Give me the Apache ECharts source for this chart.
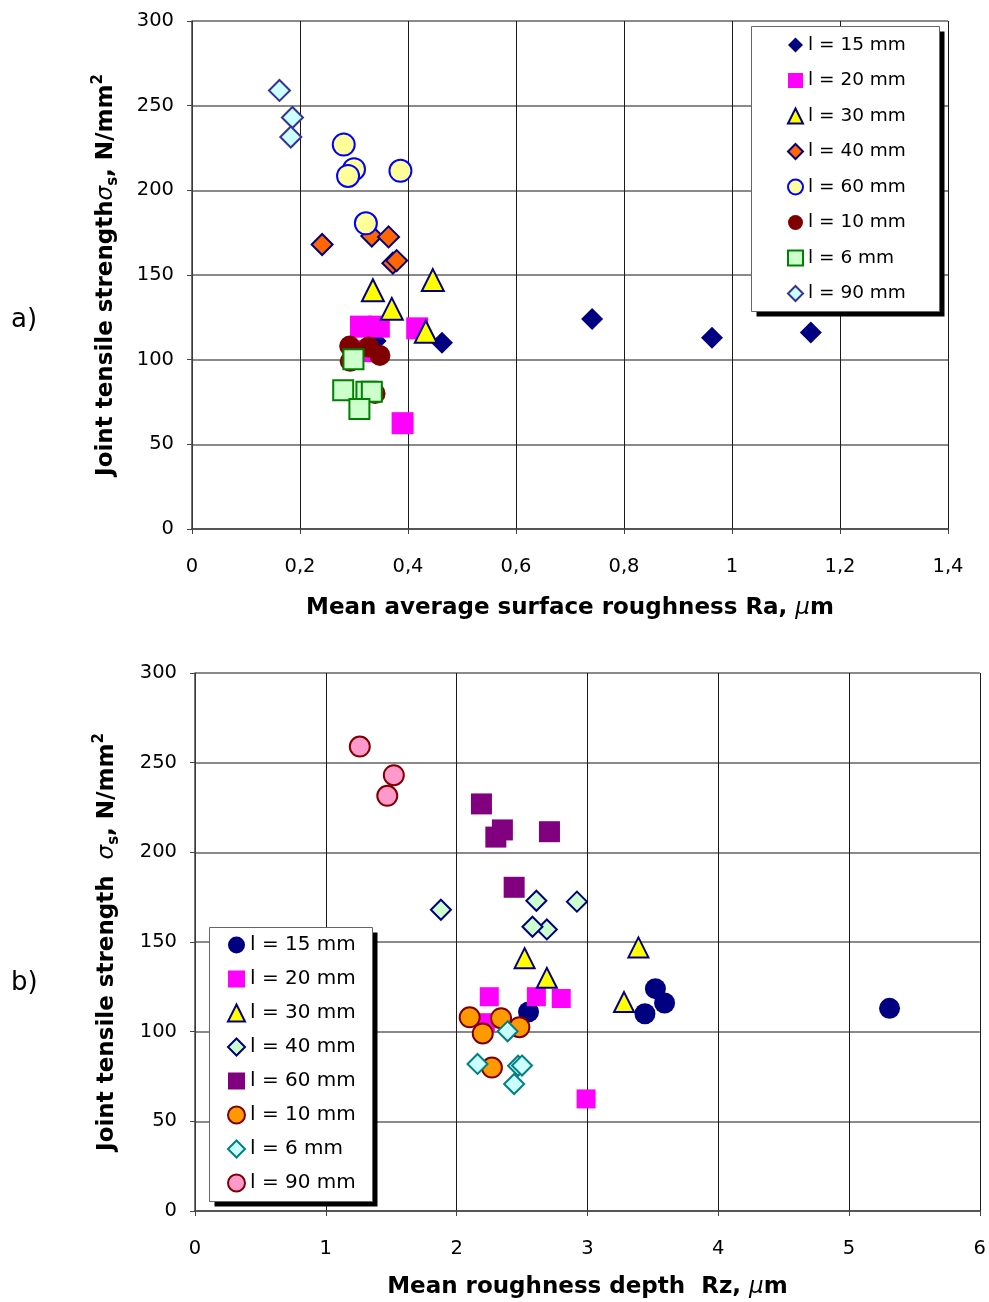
<!DOCTYPE html>
<html><head><meta charset="utf-8">
<script src="https://cdn.jsdelivr.net/npm/echarts@6/dist/echarts.min.js"></script>
<style>html,body{margin:0;padding:0;background:#fff}#c{width:989px;height:1302px}</style>
</head><body><div id="c"></div>
<script>
// ---- data ----
const seriesNames = ['l = 15 mm','l = 20 mm','l = 30 mm','l = 40 mm','l = 60 mm','l = 10 mm','l = 6 mm','l = 90 mm'];
// joint tensile strength (N/mm²), same samples in both panels
const s15 = [110, 124, 113, 116, 111];
const s20 = [119.5, 119.5, 118.5, 62.5, 105];
const s30 = [141, 130, 147, 116.5];
const s40 = [168, 173, 172.5, 157, 158.5];
const s60 = [227, 212.5, 208.5, 211.5, 180.5];
const s10 = [108, 107.5, 99, 102.5, 80];
const s6  = [100.2, 82, 81, 81.1, 70.8];
const s90 = [259, 243, 231.5];
// mean average surface roughness Ra (µm)
const ra15 = [0.463, 0.741, 0.963, 1.146, 0.34];
const ra20 = [0.313, 0.346, 0.417, 0.39, 0.32];
const ra30 = [0.335, 0.370, 0.446, 0.433];
const ra40 = [0.241, 0.333, 0.364, 0.372, 0.379];
const ra60 = [0.281, 0.300, 0.289, 0.386, 0.322];
const ra10 = [0.292, 0.327, 0.293, 0.348, 0.339];
const ra6  = [0.299, 0.28, 0.323, 0.333, 0.31];
const ra90 = [0.162, 0.186, 0.183];
// mean roughness depth Rz (µm)
const rz15 = [3.44, 3.52, 5.31, 3.59, 2.55];
const rz20 = [2.25, 2.61, 2.80, 2.99, 2.22];
const rz30 = [2.52, 2.69, 3.39, 3.28];
const rz40 = [1.88, 2.61, 2.92, 2.69, 2.58];
const rz60 = [2.19, 2.35, 2.30, 2.71, 2.44];
const rz10 = [2.10, 2.34, 2.20, 2.48, 2.27];
const rz6  = [2.39, 2.16, 2.47, 2.50, 2.44];
const rz90 = [1.26, 1.52, 1.47];
const yTicks = [0, 50, 100, 150, 200, 250, 300];
const raTicks = [0, 0.2, 0.4, 0.6, 0.8, 1, 1.2, 1.4];
const rzTicks = [0, 1, 2, 3, 4, 5, 6];

const strengths = [s15, s20, s30, s40, s60, s10, s6, s90];
const raVals = [ra15, ra20, ra30, ra40, ra60, ra10, ra6, ra90];
const rzVals = [rz15, rz20, rz30, rz40, rz60, rz10, rz6, rz90];

// ---- styles ----
const topStyles = [
  {symbol:'diamond', size:22, color:'#000080', border:'#000080', bw:0},
  {symbol:'rect', size:22, color:'#FF00FF', border:'#FF00FF', bw:0},
  {symbol:'triangle', size:22, color:'#FFFF00', border:'#000080', bw:2},
  {symbol:'diamond', size:21, color:'#FF6600', border:'#000080', bw:2},
  {symbol:'circle', size:22, color:'#FFFF99', border:'#0000FF', bw:2},
  {symbol:'circle', size:21, color:'#800000', border:'#800000', bw:0},
  {symbol:'rect', size:20, color:'#CCFFCC', border:'#008000', bw:2},
  {symbol:'diamond', size:21, color:'#CCFFFF', border:'#333399', bw:2}
];
const botStyles = [
  {symbol:'circle', size:21, color:'#000080', border:'#000080', bw:0},
  {symbol:'rect', size:19, color:'#FF00FF', border:'#FF00FF', bw:0},
  {symbol:'triangle', size:20, color:'#FFFF00', border:'#000080', bw:2},
  {symbol:'diamond', size:20, color:'#CCFFCC', border:'#000080', bw:2},
  {symbol:'rect', size:21, color:'#800080', border:'#800080', bw:0},
  {symbol:'circle', size:20, color:'#FF9900', border:'#800000', bw:2},
  {symbol:'diamond', size:20, color:'#CCFFFF', border:'#008080', bw:2},
  {symbol:'circle', size:20, color:'#FF99CC', border:'#800000', bw:2}
];

const FONT = 'DejaVu Sans';
const fmtComma = v => String(+(+v).toFixed(1)).replace('.', ',');

function yTitle(space){
  return 'Joint tensile strength' + space + '{i|σ}{sub|s}, N/mm{sup|2}';
}
const titleRich = {
  i: {fontFamily: FONT, fontStyle: 'italic', fontWeight: 'normal', fontSize: 23, lineHeight: 30, verticalAlign: 'middle'},
  sub: {fontFamily: FONT, fontWeight: 'bold', fontSize: 15, lineHeight: 14, verticalAlign: 'bottom'},
  sup: {fontFamily: FONT, fontWeight: 'bold', fontSize: 15, lineHeight: 14, verticalAlign: 'top'},
  u: {fontFamily: FONT, fontStyle: 'italic', fontWeight: 'normal', fontSize: 23}
};

function yAxis(gridIndex, gap){
  return {
    type: 'value', gridIndex, min: yTicks[0], max: yTicks[yTicks.length-1], interval: 50,
    name: yTitle(gridIndex === 0 ? '' : '  '), nameLocation: 'middle', nameGap: gap,
    nameTextStyle: {fontFamily: FONT, fontWeight: 'bold', fontSize: 23, color: '#000', lineHeight: 30, rich: titleRich},
    axisLine: {show: true, lineStyle: {color: '#444', width: 1.5}},
    axisTick: {show: true, length: 5, lineStyle: {color: '#444'}},
    axisLabel: {fontFamily: FONT, fontSize: 19.5, color: '#000', margin: 18},
    splitLine: {show: true, lineStyle: {color: '#8a8a8a', width: 2}}
  };
}
function xAxis(gridIndex, ticks, interval, name, gap, fmt){
  return {
    type: 'value', gridIndex, min: ticks[0], max: ticks[ticks.length-1], interval,
    name, nameLocation: 'middle', nameGap: gap,
    nameTextStyle: {fontFamily: FONT, fontWeight: 'bold', fontSize: 23, color: '#000', rich: titleRich},
    axisLine: {show: true, onZero: false, lineStyle: {color: '#444', width: 1.5}},
    axisTick: {show: true, length: 5, lineStyle: {color: '#444'}},
    axisLabel: {fontFamily: FONT, fontSize: 19.5, color: '#000', margin: 28, formatter: fmt, showMaxLabel: true},
    splitLine: {show: true, lineStyle: {color: '#1a1a1a', width: 1}}
  };
}

const series = [];
seriesNames.forEach((nm, k) => {
  const st = topStyles[k];
  series.push({
    type: 'scatter', name: nm, xAxisIndex: 0, yAxisIndex: 0,
    symbol: st.symbol, symbolSize: st.size,
    itemStyle: {color: st.color, borderColor: st.border, borderWidth: st.bw, opacity: 1},
    emphasis: {disabled: true},
    data: raVals[k].map((x, i) => [x, strengths[k][i]]),
    z: 3 + k * 0.01
  });
});
seriesNames.forEach((nm, k) => {
  const st = botStyles[k];
  series.push({
    type: 'scatter', name: nm + ' ', xAxisIndex: 1, yAxisIndex: 1,
    symbol: st.symbol, symbolSize: st.size,
    itemStyle: {color: st.color, borderColor: st.border, borderWidth: st.bw, opacity: 1},
    emphasis: {disabled: true},
    data: rzVals[k].map((x, i) => [x, strengths[k][i]]),
    z: 3 + k * 0.01
  });
});

const legendCommon = {
  orient: 'vertical', backgroundColor: 'transparent', borderWidth: 0,
  selectedMode: false, inactiveColor: '#000', z: 20
};

// legend frames (box + drop shadow)
function frame(x, y, w, h, off){
  return [
    {type: 'rect', z: 10, shape: {x: x + off, y: y + off, width: w, height: h}, style: {fill: '#000'}},
    {type: 'rect', z: 11, shape: {x: x, y: y, width: w, height: h}, style: {fill: '#fff', stroke: '#666', lineWidth: 1}}
  ];
}

const option = {
  animation: false,
  backgroundColor: '#fff',
  grid: [
    {left: 192, top: 21, width: 756, height: 508, containLabel: false},
    {left: 195, top: 673, width: 786, height: 538, containLabel: false}
  ],
  xAxis: [
    xAxis(0, raTicks, 0.2, 'Mean average surface roughness Ra, {u|μ}m', 68, fmtComma),
    xAxis(1, rzTicks, 1, 'Mean roughness depth  Rz, {u|μ}m', 65, v => String(v))
  ],
  yAxis: [yAxis(0, 71), yAxis(1, 73)],
  legend: [
    Object.assign({}, legendCommon, {
      left: 752, top: 26, padding: [9, 35, 8, 35],
      itemWidth: 15, itemHeight: 15, itemGap: 15.5,
      textStyle: {fontFamily: FONT, fontSize: 18.5, color: '#000', lineHeight: 20},
      data: seriesNames
    }),
    Object.assign({}, legendCommon, {
      left: 209, top: 927, padding: [8, 16, 8, 18],
      itemWidth: 17, itemHeight: 17, itemGap: 14,
      textStyle: {fontFamily: FONT, fontSize: 20, color: '#000', lineHeight: 20},
      data: seriesNames.map(n => n + ' '),
      formatter: n => n.trim()
    })
  ],
  graphic: [
    ...frame(751.5, 26.5, 188, 285, 5),
    ...frame(209.5, 927.5, 163, 274, 5),
    {type: 'text', left: 11, top: 307, style: {text: 'a)', font: '26px "DejaVu Sans"', fill: '#000'}},
    {type: 'text', left: 11, top: 970, style: {text: 'b)', font: '26px "DejaVu Sans"', fill: '#000'}}
  ],
  series
};
const chart = echarts.init(document.getElementById('c'), null, {renderer: 'canvas'});
chart.setOption(option);
</script>
</body></html>
